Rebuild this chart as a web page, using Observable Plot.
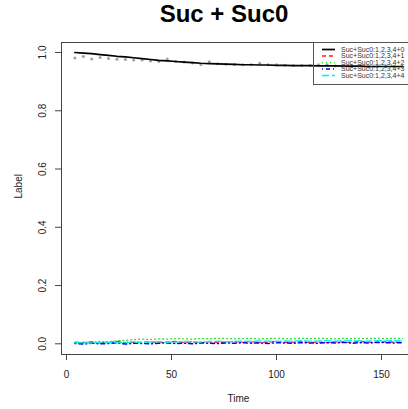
<!DOCTYPE html>
<html>
<head>
<meta charset="utf-8">
<script src="https://cdn.jsdelivr.net/npm/d3@7"></script>
<script src="https://cdn.jsdelivr.net/npm/@observablehq/plot@0.6"></script>
<style>
  html, body { margin: 0; padding: 0; background: white; overflow: hidden; }
  #wrap { position: relative; width: 408px; height: 409px; overflow: hidden; }
  #title { height: 34px; line-height: 36px; font: bold 24px "Liberation Sans", Arial, sans-serif; text-align: center; padding-left: 40px; box-sizing: border-box; width: 408px; color: #000; }
  #chart svg { max-width: none !important; display: block; }
  #legend { position: absolute; left: 0; top: 0; }
</style>
</head>
<body>
<div id="wrap">
  <div id="title">Suc + Suc0</div>
  <div id="chart"></div>
  <svg id="legend" width="408" height="409"></svg>
</div>
<script>
const time = [4,8,12,16,20,24,28,32,36,40,44,48,52,56,60,64,68,72,76,80,84,88,92,96,100,104,108,112,116,120,124,128,132,136,140,144,148,152,156,160];

const seriesNames = ["Suc+Suc0:1,2,3,4+0","Suc+Suc0:1,2,3,4+1","Suc+Suc0:1,2,3,4+2","Suc+Suc0:1,2,3,4+3","Suc+Suc0:1,2,3,4+4"];
const seriesColors = ["#000000","#ff2020","#33dd33","#0000ff","#00f0f0"];
const seriesDash = [null,"4,3","1,3","1,3,4,3","7,3"];
const seriesWidth = [1.7,1.3,1.3,1.5,1.3];

const s0 = [1.000,0.998,0.996,0.993,0.990,0.987,0.985,0.982,0.979,0.976,0.973,0.971,0.969,0.967,0.965,0.963,0.962,0.961,0.960,0.959,0.958,0.958,0.957,0.957,0.956,0.956,0.955,0.955,0.955,0.954,0.954,0.954,0.953,0.953,0.953,0.952,0.952,0.952,0.952,0.952];
const s1 = [0.006,0.004,0.007,0.003,0.005,0.008,0.004,0.006,0.005,0.007,0.004,0.006,0.008,0.005,0.006,0.004,0.007,0.005,0.006,0.008,0.005,0.007,0.004,0.006,0.009,0.005,0.006,0.007,0.005,0.006,0.004,0.007,0.006,0.005,0.008,0.006,0.005,0.007,0.006,0.005];
const s2 = [0.004,0.006,0.005,0.008,0.007,0.010,0.012,0.014,0.016,0.015,0.017,0.016,0.018,0.017,0.016,0.018,0.017,0.019,0.018,0.017,0.018,0.019,0.017,0.018,0.019,0.018,0.017,0.019,0.018,0.019,0.018,0.017,0.019,0.018,0.019,0.018,0.019,0.018,0.019,0.018];
const s3 = [0.001,-0.001,0.002,0.000,0.001,0.003,-0.001,0.002,0.001,0.000,0.002,0.003,0.001,0.002,0.000,0.003,0.002,0.001,0.003,0.002,0.004,0.002,0.003,0.001,0.004,0.003,0.002,0.004,0.003,0.002,0.004,0.003,0.005,0.002,0.004,0.003,0.005,0.004,0.003,0.004];
const s4 = [0.003,0.004,0.002,0.005,0.004,0.003,0.005,0.006,0.004,0.006,0.007,0.005,0.006,0.008,0.007,0.006,0.008,0.009,0.007,0.008,0.009,0.008,0.010,0.009,0.008,0.010,0.009,0.011,0.009,0.010,0.011,0.009,0.010,0.011,0.010,0.009,0.011,0.010,0.011,0.010];
const observed = [0.981,0.986,0.978,0.983,0.979,0.977,0.976,0.974,0.974,0.971,0.969,0.978,0.969,0.967,0.964,0.959,0.968,0.961,0.960,0.959,0.958,0.958,0.963,0.958,0.958,0.956,0.955,0.955,0.955,0.958,0.958,0.954,0.953,0.953,0.953,0.952,0.952,0.952,0.952,0.952];

const xTicks = [0,50,100,150];
const yTicks = [0.0,0.2,0.4,0.6,0.8,1.0];

const allSeries = [s0,s1,s2,s3,s4];
const lineData = allSeries.map((vals, k) => time.map((t, i) => ({t, v: vals[i], k})));
const dotData = time.map((t, i) => ({t, v: observed[i]}));

const font = "'Liberation Sans', Arial, sans-serif";

const lineMarks = lineData.map((d, k) => Plot.line(d, {
  x: "t", y: "v", stroke: seriesColors[k], strokeWidth: seriesWidth[k],
  strokeDasharray: seriesDash[k] || undefined
}));

const chart = Plot.plot({
  width: 416, height: 375,
  marginLeft: 61, marginRight: 1, marginTop: 8, marginBottom: 55,
  x: {domain: [-2.38, 166.19]},
  y: {domain: [-0.0367, 1.0343]},
  style: {fontFamily: font, fontSize: "10px", color: "#222", background: "white", overflow: "visible", maxWidth: "none"},
  marks: [
    Plot.frame({stroke: "#444"}),
    Plot.axisX({ticks: xTicks, tickSize: 6, tickPadding: 10, label: null, stroke: "#444", fill: "#222"}),
    Plot.axisY({ticks: yTicks, tickSize: 6, tickPadding: 10, tickRotate: -90, tickFormat: d3.format(".1f"), label: null, stroke: "#444", fill: "#222"}),
    Plot.text(["Label"], {frameAnchor: "left", dx: -43, rotate: -90, fill: "#222", fontSize: 10}),
    Plot.text(["Time"], {frameAnchor: "bottom", dy: 47, fill: "#222", fontSize: 10}),
    Plot.dot(dotData, {x: "t", y: "v", r: 1.5, fill: "#a0a0a0", stroke: "none"}),
    ...lineMarks.slice(1),
    lineMarks[0]
  ]
});
document.getElementById("chart").appendChild(chart);

// Legend
const lg = d3.select("#legend");
lg.append("rect").attr("x", 313.5).attr("y", 42.5).attr("width", 200).attr("height", 42)
  .attr("fill", "none").attr("stroke", "#555").attr("stroke-width", 1);
seriesNames.forEach((name, k) => {
  const y = 49.5 + k * 6.5;
  lg.append("line").attr("x1", 322).attr("x2", 335).attr("y1", y).attr("y2", y)
    .attr("stroke", seriesColors[k]).attr("stroke-width", seriesWidth[k])
    .attr("stroke-dasharray", seriesDash[k] || null);
  lg.append("text").attr("x", 341).attr("y", y).attr("dy", "0.35em")
    .attr("font-family", font).attr("font-size", 7).attr("fill", "#333").text(name);
});
</script>
</body>
</html>
